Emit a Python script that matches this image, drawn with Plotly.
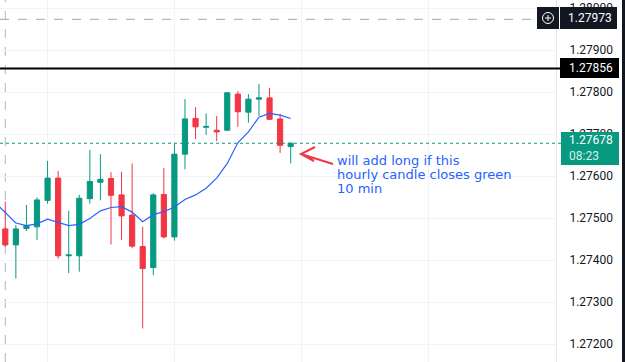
import plotly.graph_objects as go

# ---------------- data ----------------
candle_idx = list(range(28))
opens = [1.27474, 1.27436, 1.27475, 1.27479, 1.27542, 1.27595, 1.27410, 1.27410, 1.27546, 1.27585,
         1.27594, 1.27555, 1.27507, 1.27432, 1.27382, 1.27556, 1.27455, 1.27652, 1.27737, 1.27716,
         1.27709, 1.27709, 1.27795, 1.27752, 1.27783, 1.27786, 1.27736, 1.27670]
highs = [1.27539, 1.27483, 1.27531, 1.27549, 1.27636, 1.27612, 1.27517, 1.27555, 1.27662, 1.27652,
         1.27609, 1.27610, 1.27630, 1.27479, 1.27559, 1.27619, 1.27678, 1.27783, 1.27764, 1.27749,
         1.27743, 1.27800, 1.27802, 1.27795, 1.27819, 1.27810, 1.27748, 1.27680]
lows = [1.27431, 1.27356, 1.27469, 1.27448, 1.27534, 1.27403, 1.27369, 1.27372, 1.27534, 1.27542,
        1.27437, 1.27448, 1.27428, 1.27237, 1.27364, 1.27451, 1.27446, 1.27616, 1.27688, 1.27698,
        1.27683, 1.27707, 1.27717, 1.27727, 1.27743, 1.27733, 1.27655, 1.27630]
closes = [1.27436, 1.27474, 1.27482, 1.27543, 1.27595, 1.27410, 1.27412, 1.27547, 1.27587, 1.27592,
          1.27554, 1.27505, 1.27433, 1.27380, 1.27555, 1.27455, 1.27652, 1.27736, 1.27717, 1.27718,
          1.27705, 1.27798, 1.27753, 1.27783, 1.27786, 1.27735, 1.27673, 1.27678]

ma_idx = list(range(-1, 28))
ma_vals = [1.27538, 1.27512, 1.27488, 1.27482, 1.27486, 1.27497, 1.27489, 1.27482, 1.27485, 1.27499,
           1.27517, 1.27525, 1.27527, 1.27514, 1.27491, 1.27508, 1.27515, 1.27526, 1.27544, 1.27555,
           1.27571, 1.27595, 1.27630, 1.27679, 1.27705, 1.27740, 1.27749, 1.27745, 1.27737]

y_ticks = [1.272, 1.273, 1.274, 1.275, 1.276, 1.277, 1.278, 1.279, 1.280]
y_tick_labels = ["1.27200", "1.27300", "1.27400", "1.27500", "1.27600",
                 "1.27700", "1.27800", "1.27900", "1.28000"]
x_grid = [4, 16, 28, 40]

session_break_idx = 0
high_marker_price = 1.27973
high_marker_label = "1.27973"
hline_price = 1.27856
hline_label = "1.27856"
last_price = 1.27678
last_label = "1.27678"
countdown = "08:23"
note_lines = ["will add long if this", "hourly candle closes green", "10 min"]

# ---------------- figure ----------------
W_PLOT, H_PLOT = 556, 362
UP, DOWN = "#089981", "#F23645"


def fx(x):
    return x / W_PLOT


def fy(y):
    return 1 - y / H_PLOT


fig = go.Figure()
fig.add_trace(go.Candlestick(
    x=candle_idx, open=opens, high=highs, low=lows, close=closes,
    increasing=dict(line=dict(color=UP, width=1), fillcolor=UP),
    decreasing=dict(line=dict(color=DOWN, width=1), fillcolor=DOWN),
    whiskerwidth=0, showlegend=False, hoverinfo="skip",
))
fig.add_trace(go.Scatter(
    x=ma_idx, y=ma_vals, mode="lines",
    line=dict(color="#2962FF", width=1.2), showlegend=False, hoverinfo="skip",
))

shapes = []
# session break (vertical dashed)
shapes.append(dict(type="line", xref="x", yref="paper", x0=session_break_idx, x1=session_break_idx,
                   y0=0, y1=1, line=dict(color="#b2b5be", width=1, dash="dash"), layer="below"))
# high marker dashed line
shapes.append(dict(type="line", xref="paper", yref="y", x0=0, x1=fx(537),
                   y0=high_marker_price, y1=high_marker_price,
                   line=dict(color="#a3a6af", width=1, dash="dash")))
# black horizontal ray
shapes.append(dict(type="line", xref="paper", yref="y", x0=0, x1=fx(561),
                   y0=hline_price, y1=hline_price, line=dict(color="#000000", width=2)))
# last price dotted
shapes.append(dict(type="line", xref="paper", yref="y", x0=0, x1=fx(561),
                   y0=last_price, y1=last_price, line=dict(color=UP, width=1, dash="dot")))
# arrow
arrow_path = (f"M {fx(333)},{fy(164)} L {fx(301)},{fy(154)} "
              f"M {fx(315)},{fy(147)} L {fx(301)},{fy(154)} L {fx(314)},{fy(161)}")
shapes.append(dict(type="path", xref="paper", yref="paper", path=arrow_path,
                   line=dict(color=DOWN, width=2), layer="above"))
# label boxes
shapes.append(dict(type="rect", xref="paper", yref="paper", x0=fx(537), x1=fx(559),
                   y0=fy(29), y1=fy(7), fillcolor="#131722", line=dict(width=0), layer="above"))
shapes.append(dict(type="circle", xref="paper", yref="paper", x0=fx(542.5), x1=fx(553.5),
                   y0=fy(23.5), y1=fy(12.5), line=dict(color="#ffffff", width=1), layer="above"))
shapes.append(dict(type="line", xref="paper", yref="paper", x0=fx(545), x1=fx(551),
                   y0=fy(18), y1=fy(18), line=dict(color="#ffffff", width=1), layer="above"))
shapes.append(dict(type="line", xref="paper", yref="paper", x0=fx(548), x1=fx(548),
                   y0=fy(21), y1=fy(15), line=dict(color="#ffffff", width=1), layer="above"))
shapes.append(dict(type="rect", xref="paper", yref="paper", x0=fx(560), x1=fx(617),
                   y0=fy(29), y1=fy(7), fillcolor="#131722", line=dict(width=0), layer="above"))
shapes.append(dict(type="rect", xref="paper", yref="paper", x0=fx(560), x1=fx(619),
                   y0=fy(78), y1=fy(58), fillcolor="#000000", line=dict(width=0), layer="above"))
shapes.append(dict(type="rect", xref="paper", yref="paper", x0=fx(561), x1=fx(619),
                   y0=fy(165), y1=fy(132), fillcolor=UP, line=dict(width=0), layer="above"))
# right window border
shapes.append(dict(type="rect", xref="paper", yref="paper", x0=fx(622), x1=fx(626),
                   y0=0, y1=1, fillcolor="#131722", line=dict(width=0), layer="above"))

annotations = []
lab_font = dict(family="Roboto", size=12, color="#ffffff")
annotations.append(dict(xref="paper", yref="paper", x=fx(590), y=fy(18), text=high_marker_label,
                        showarrow=False, xanchor="center", yanchor="middle", font=lab_font))
annotations.append(dict(xref="paper", yref="paper", x=fx(591), y=fy(68), text=hline_label,
                        showarrow=False, xanchor="center", yanchor="middle", font=lab_font))
annotations.append(dict(xref="paper", yref="paper", x=fx(567), y=fy(140), text=last_label,
                        showarrow=False, xanchor="left", yanchor="middle", font=lab_font))
annotations.append(dict(xref="paper", yref="paper", x=fx(567), y=fy(156), text=countdown,
                        showarrow=False, xanchor="left", yanchor="middle",
                        font=dict(family="Roboto", size=12, color="rgba(255,255,255,0.85)")))
note_font = dict(family="DejaVu Sans", size=13, color="#2962FF")
for i, line in enumerate(note_lines):
    annotations.append(dict(xref="paper", yref="paper", x=fx(335), y=fy(160 + 14 * i), text=line,
                            showarrow=False, xanchor="left", yanchor="middle", font=note_font))

fig.update_layout(
    width=625, height=362,
    margin=dict(l=0, r=625 - W_PLOT, t=0, b=0),
    paper_bgcolor="#ffffff", plot_bgcolor="#ffffff",
    showlegend=False,
    shapes=shapes, annotations=annotations,
    xaxis=dict(range=[-0.5, 52.1], tickvals=x_grid, showticklabels=False, ticks="",
               showgrid=True, gridcolor="#f0f3fa", zeroline=False, showline=False,
               rangeslider=dict(visible=False), fixedrange=True),
    yaxis=dict(side="right", range=[1.2715714, 1.2801905], tickvals=y_ticks, ticktext=y_tick_labels,
               showgrid=True, gridcolor="#f0f3fa", zeroline=False,
               showline=True, linecolor="#e6e8ee", linewidth=1,
               ticks="outside", ticklen=10, tickcolor="rgba(0,0,0,0)",
               tickfont=dict(family="Roboto", size=12, color="#131722"), fixedrange=True),
)

fig.write_html("out.html")
